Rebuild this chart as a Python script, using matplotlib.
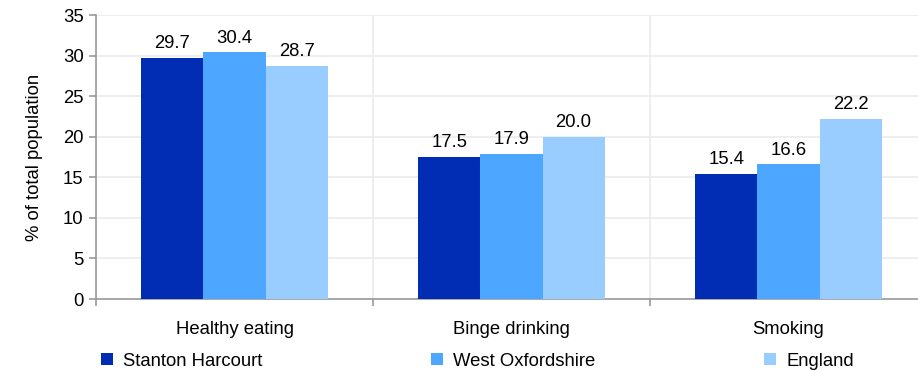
import matplotlib
matplotlib.use("Agg")
import matplotlib.pyplot as plt
from matplotlib.patches import Patch
import numpy as np

categories = ["Healthy eating", "Binge drinking", "Smoking"]
series_names = ["Stanton Harcourt", "West Oxfordshire", "England"]
stanton = [29.7, 17.5, 15.4]
west_ox = [30.4, 17.9, 16.6]
england = [28.7, 20.0, 22.2]
yticks = [0, 5, 10, 15, 20, 25, 30, 35]

colors = ["#002DB3", "#4DA6FF", "#99CCFF"]

plt.rcParams["font.family"] = ["Liberation Sans", "DejaVu Sans"]

W, H = 918, 371
FS = 13.3
fig = plt.figure(figsize=(W / 100, H / 100), dpi=100)
left, right, bottom, top = 96, 927, 299, 15
ax = fig.add_axes([left / W, (H - bottom) / H, (right - left) / W, (bottom - top) / H])

x = np.arange(len(categories))
bw = 0.224
series = [stanton, west_ox, england]
for i, (vals, c) in enumerate(zip(series, colors)):
    bars = ax.bar(x + (i - 1) * bw, vals, width=bw, color=c, zorder=3)
    for b, v in zip(bars, vals):
        ax.text(b.get_x() + b.get_width() / 2, v + 0.7, f"{v:.1f}",
                ha="center", va="bottom", fontsize=FS, color="#000000")

ax.set_xlim(-0.5, len(categories) - 0.5)
ax.set_ylim(0, 35)
ax.set_yticks(yticks)
ax.set_yticklabels([str(t) for t in yticks], fontsize=FS)
ax.set_xticks(x)
ax.set_xticklabels(categories, fontsize=FS)
ax.tick_params(axis="x", length=0, pad=15.5)
ax.set_xticks(np.arange(len(categories) + 1) - 0.5, minor=True)
ax.tick_params(axis="x", which="minor", length=5, color="#999999", width=1.2)
ax.tick_params(axis="y", length=5, color="#999999", width=1.2, pad=4)

ax.grid(True, axis="y", color="#EBEBEB", linewidth=1.2, zorder=0)
ax.grid(True, axis="x", which="minor", color="#EBEBEB", linewidth=1.2, zorder=0)
for s in ["top", "right"]:
    ax.spines[s].set_visible(False)
for s in ["left", "bottom"]:
    ax.spines[s].set_color("#999999")
    ax.spines[s].set_linewidth(1.2)

ax.set_ylabel("% of total population", fontsize=FS, labelpad=14)

leg_x = [101, 431, 764]
for name, c, lx in zip(series_names, colors, leg_x):
    h = Patch(facecolor=c, edgecolor="none")
    fig.legend([h], [name], loc="center left", bbox_to_anchor=(lx / W, (H - 361) / H),
               frameon=False, fontsize=FS, handlelength=0.65, handleheight=0.65,
               handletextpad=0.55, borderpad=0, borderaxespad=0)

fig.savefig("out.png", dpi=100)
